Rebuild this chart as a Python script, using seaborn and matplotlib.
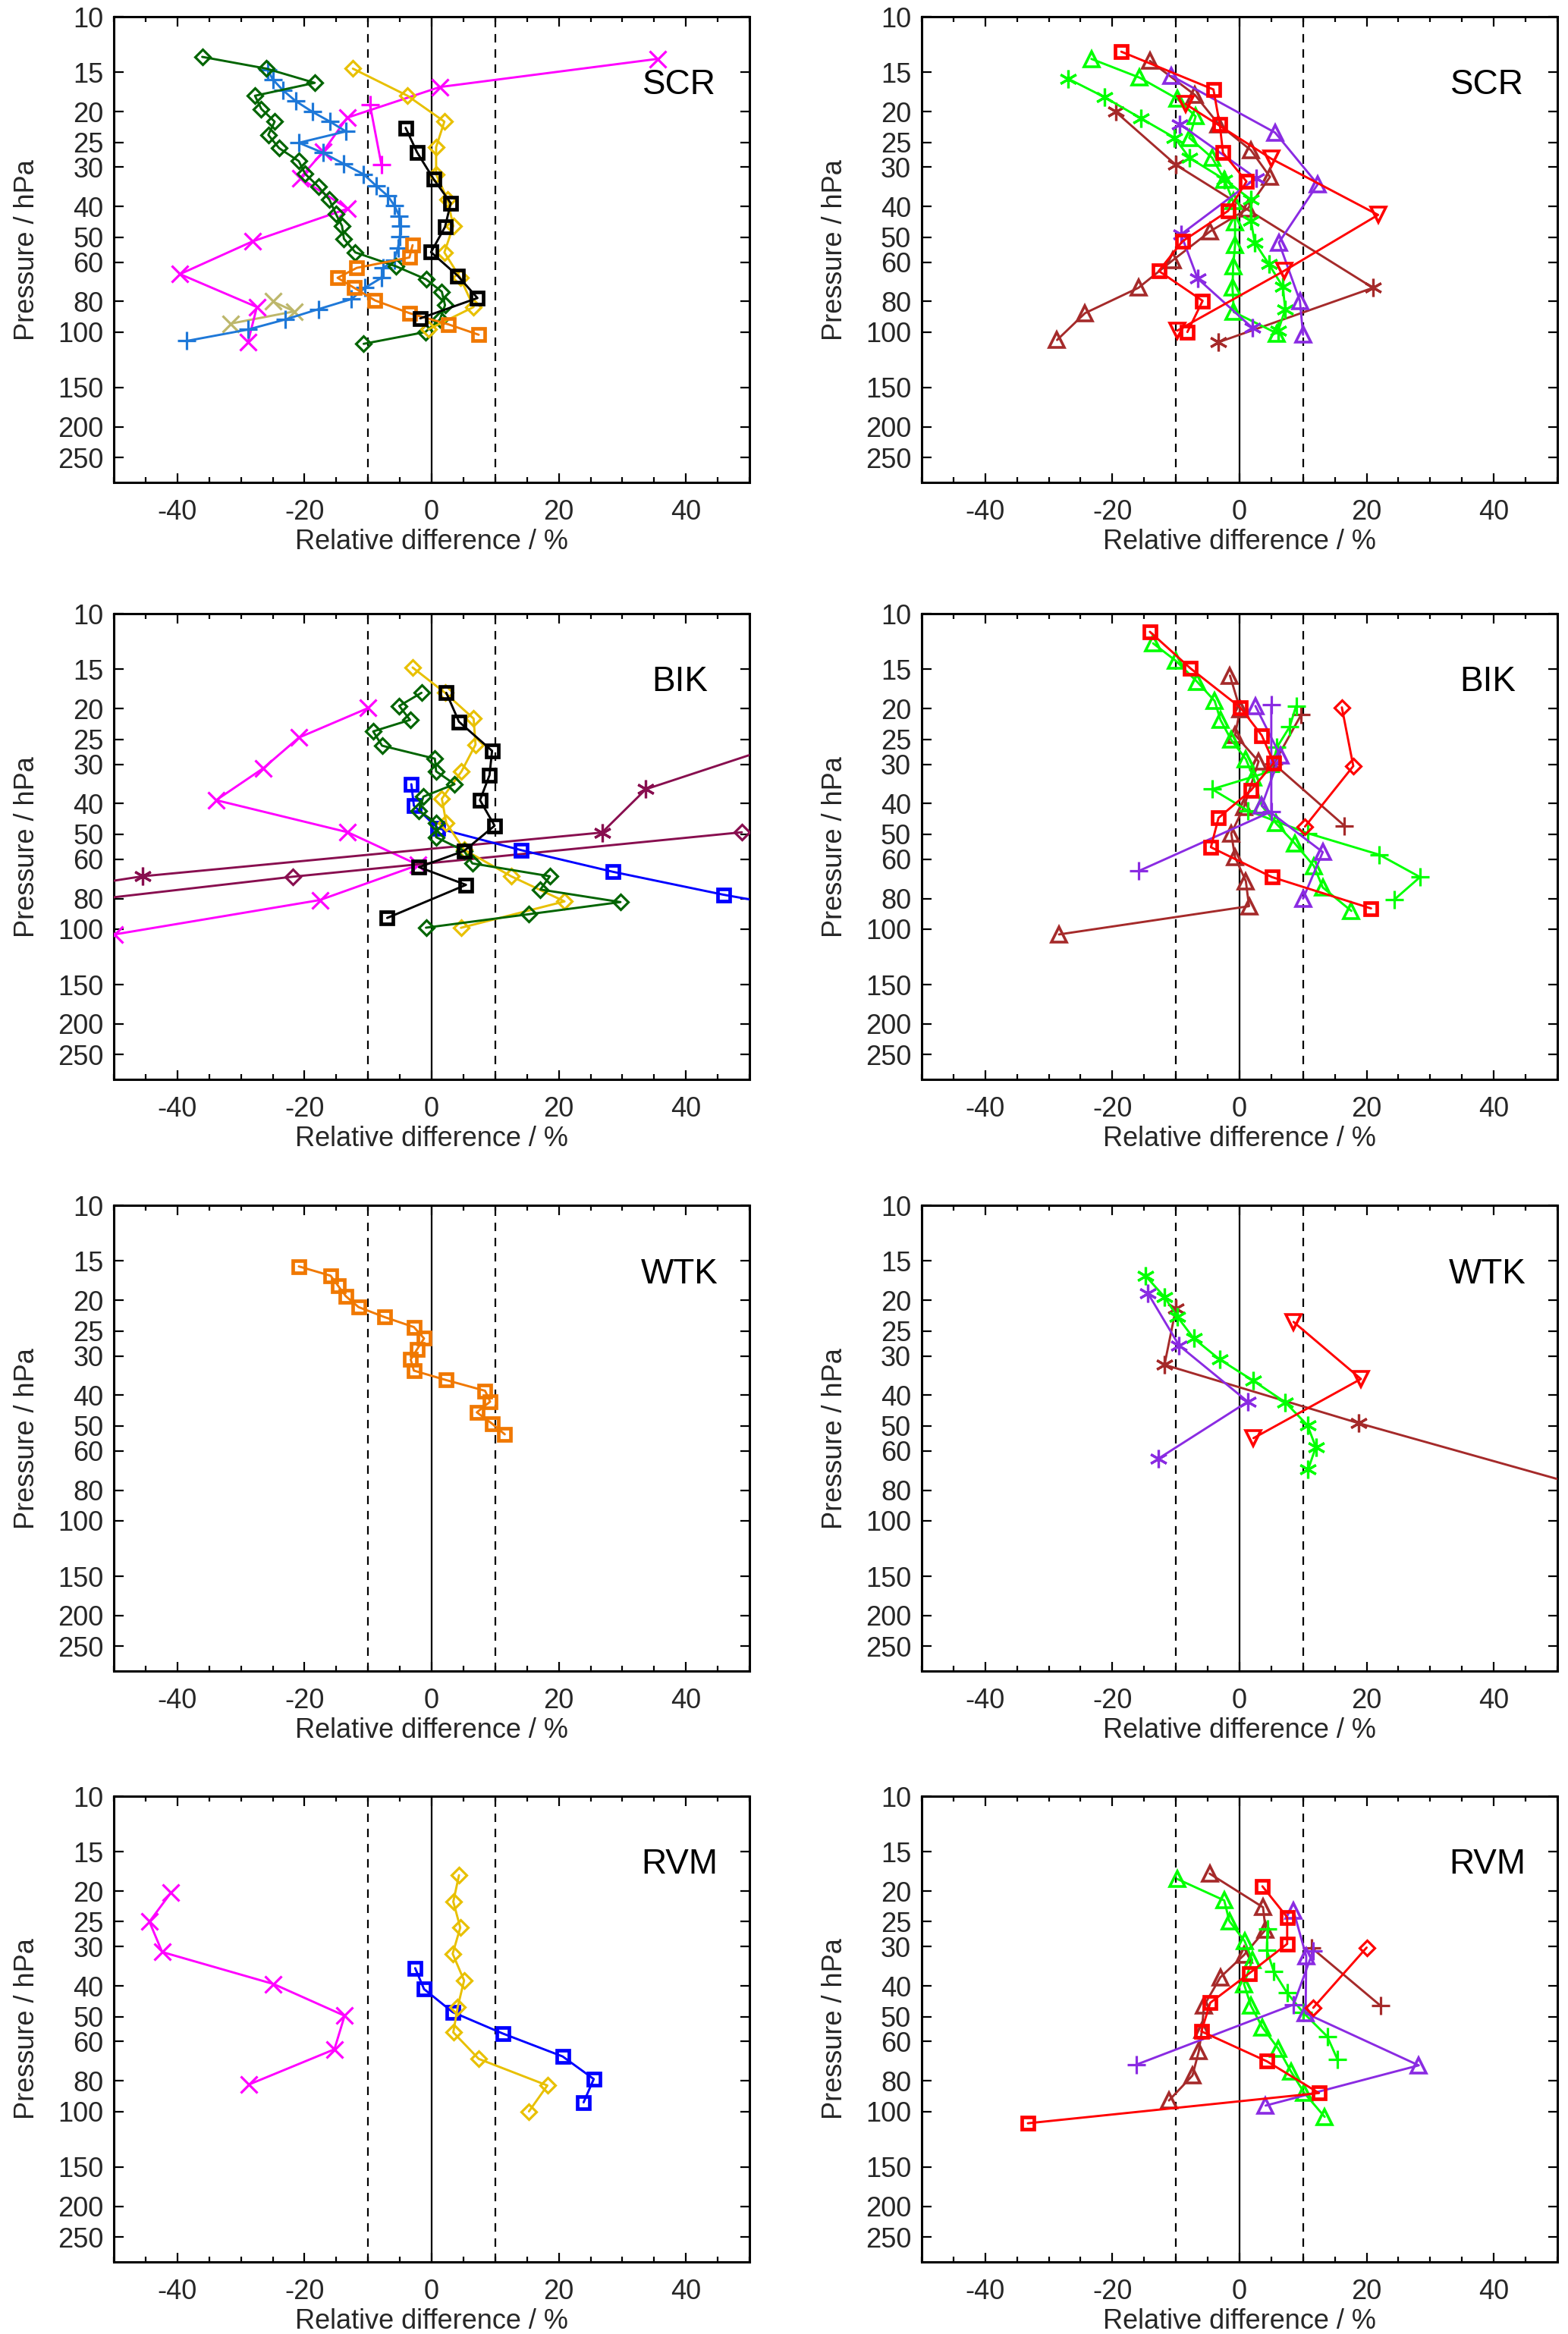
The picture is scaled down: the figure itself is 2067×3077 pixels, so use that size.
import numpy as np
import matplotlib
matplotlib.use("Agg")
import matplotlib.pyplot as plt
import seaborn as sns
from matplotlib.ticker import MultipleLocator, FixedLocator, NullLocator

# ---- data: relative difference (%) against pressure (hPa) ----
# SCR, left column
scr_dgreen_dia = ([-36.1, -26.0, -18.4, -27.8, -26.8, -24.7, -25.7, -24.0, -20.9, -19.9, -17.8, -16.1,
                   -15.1, -14.1, -13.8, -12.0, -5.6, -0.9, 1.6, 2.1, 1.3, -1.0, -10.7],
                  [13.4, 14.6, 16.2, 17.8, 19.6, 21.5, 23.7, 26.1, 28.7, 31.5, 34.6, 38.0,
                   42.1, 46.1, 50.6, 55.9, 61.9, 68.0, 74.5, 82.2, 91.2, 100, 109])
scr_gold_dia = ([-12.4, -3.8, 2.0, 0.7, 0.7, 2.5, 3.4, 2.0, 4.5, 6.6, -0.5],
                [14.6, 17.8, 21.5, 25.9, 31.6, 38, 46.1, 55.9, 67.3, 83.3, 98])
scr_mag_x = ([35.5, 1.3, -13.3, -17.1, -20.7, -13.2, -28.2, -39.6, -27.5, -28.9],
             [13.6, 16.7, 20.9, 26.8, 32.5, 40.6, 51.6, 65.5, 83.3, 107.7])
scr_mag_plus = ([-9.7, -7.9], [19.05, 29.5])
scr_blue_plus = ([-25.8, -25.0, -23.4, -21.4, -18.8, -16.0, -13.5, -20.9, -17.1, -13.8, -10.7, -8.7, -6.9, -5.9,
                  -5.1, -4.9, -5.0, -5.3, -5.9, -7.6, -7.9, -10.5, -12.6, -17.8, -23.0, -28.9, -38.5],
                 [14.7, 15.8, 17.1, 18.5, 20.0, 21.5, 23.1, 25.1, 27.0, 29.3, 31.6, 34.4, 37.0, 39.6,
                  42.8, 46.1, 49.8, 54.0, 59.2, 62.6, 67.3, 72.4, 78.6, 84.6, 91.2, 98.2, 106.7])
scr_orange_sq = ([-3.0, -3.5, -11.8, -14.8, -12.2, -8.9, -3.5, 2.6, 7.4],
                 [53, 58, 62.6, 67.3, 72.4, 79.4, 87.1, 94.5, 102])
scr_black_sq = ([-4.1, -2.3, 0.3, 3.0, 2.1, -0.1, 4.1, 7.2, -1.8],
                [22.5, 26.9, 32.7, 39, 46.4, 55.8, 66.3, 78, 90.5])
scr_khaki_x = ([-25.0, -21.6, -31.6], [80, 86, 94])

# SCR, right column
scr_red_sq = ([-18.6, -4.1, -3.1, -2.6, 1.1, -1.8, -9.0, -12.7, -5.8, -8.2],
              [12.9, 17.0, 22, 27, 33.3, 41.3, 51.6, 64, 79.6, 100])
scr_red_inv = ([-8.5, 5.0, 21.8, 7.0, -9.8], [18.9, 28.2, 42.5, 64, 99])
scr_brown_tri = ([-14.1, -7.0, -3.3, 1.8, 4.8, 1.3, -4.6, -10.5, -15.9, -24.3, -28.7],
                 [13.8, 17.7, 21.9, 26.5, 32.2, 40.6, 47.9, 59.2, 72.4, 87.1, 106])
scr_brown_ast = ([-19.5, -10.0, 21.0, -3.3], [20.0, 29.5, 72.4, 107.7])
scr_lime_tri = ([-23.3, -15.7, -9.8, -6.9, -7.9, -4.3, -2.4, -1.0, -0.7, -0.7, -1.0, -1.1, -0.9, 5.9],
                [13.6, 15.6, 18.2, 20.7, 24.2, 28, 32.8, 38.5, 44.9, 53, 61.9, 72.4, 86.4, 101])
scr_lime_ast = ([-27.0, -21.2, -15.5, -10.2, -7.9, -2.4, 1.8, 1.8, 2.4, 4.6, 6.8, 7.2, 6.1],
                [15.7, 18.0, 21.0, 24.2, 28, 32.8, 38, 44.4, 52, 60.8, 71.8, 84.6, 99])
scr_purple_tri = ([-10.7, 5.6, 12.3, 6.2, 9.5, 10.0], [15.4, 23.3, 34, 52, 79.6, 102])
scr_purple_ast = ([-9.4, 2.6, -9.2, -6.6, 2.0], [21.9, 32.5, 49, 67.6, 96.9])

# BIK, left column
bik_gold_dia = ([-3.0, 2.1, 6.6, 6.9, 4.7, 1.6, 2.3, 5.1, 12.5, 20.9, 4.6],
                [14.8, 17.8, 21.5, 26, 31.6, 38.6, 46.1, 56, 68, 81.7, 99.1])
bik_black_sq = ([2.3, 4.3, 9.5, 9.1, 7.6, 9.9, 5.1, -2.0, 5.4, -7.0],
                [17.8, 22, 27.2, 32.5, 39, 47, 56.5, 63.6, 72.4, 92.2])
bik_dgreen_dia = ([-1.6, -5.1, -3.4, -9.2, -7.8, 0.5, 0.7, 3.6, -1.3, -2.0, 0.7, 0.7, 5.1, 6.4,
                   18.6, 17.1, 29.7, 15.3, -0.9],
                  [17.8, 19.6, 21.7, 23.6, 26.2, 28.8, 31.6, 34.7, 38, 42.1, 46.1, 51.1, 56.5, 61.9,
                   68, 74.9, 82.1, 89.7, 99])
bik_blue_sq = ([-3.2, -2.8, 1.0, 14.1, 28.5, 45.9, 58], [34.7, 40.6, 47.9, 56.2, 65.8, 77.8, 86])
bik_mag_x = ([-10.0, -20.9, -26.5, -33.9, -13.2, -2.1, -17.6, -49.9],
             [19.9, 24.7, 30.9, 39, 49.3, 62.6, 80.9, 104])
bik_maroon_ast = ([-55, -45.5, 26.8, 33.7, 65], [72.8, 68, 49.4, 36, 22.3])
bik_maroon_dia = ([-60, -21.8, 48.8], [83.6, 68.2, 49.3])

# BIK, right column
bik_red_sq = ([-14.1, -7.7, 0.1, 3.5, 5.4, 1.8, -3.3, -4.5, 5.1, 20.7],
              [11.4, 14.9, 19.8, 24.3, 29.7, 36.3, 44.4, 55, 68.4, 86])
bik_lime_tri = ([-13.6, -10.0, -6.7, -3.9, -3.0, -1.3, 1.0, 2.2, 3.5, 5.7, 8.7, 11.7, 13.1, 17.6],
                [12.4, 14.1, 16.4, 18.9, 21.7, 25.1, 28.9, 33.1, 40.6, 46.1, 53.5, 63.1, 73.8, 87.6])
bik_brown_tri = ([-1.5, 0.1, -0.7, 3.0, 0.7, -1.3, -0.7, 1.0, 1.5, -28.4],
                 [15.7, 20.1, 24.2, 29.4, 41, 49.7, 59.2, 70.5, 84.6, 104])
bik_brown_plus = ([9.7, 5.4, 16.5], [20.9, 29.9, 47])
bik_lime_plus = ([8.9, 7.9, 5.9, 4.9, -4.3, 1.3, 10.8, 22.0, 28.4, 24.3],
                 [19.6, 22.8, 26.5, 31.6, 36, 42.1, 49.7, 58.1, 68.4, 80.8])
bik_purple_tri = ([2.5, 6.4, 3.5, 13.1, 10.0], [19.6, 28.1, 40.6, 57, 80])
bik_purple_plus = ([5.0, 5.0, -15.9], [19.4, 42.4, 65.5])
bik_red_dia = ([16.1, 17.9, 10.3], [19.8, 30.4, 47.3])

# WTK
wtk_orange_sq = ([-20.9, -15.9, -14.7, -13.5, -11.5, -7.4, -2.8, -1.2, -2.3, -3.3, -2.8, 2.3, 8.4, 9.2,
                  7.1, 9.5, 11.5],
                 [15.6, 16.7, 18.0, 19.4, 21.0, 22.6, 24.3, 26.4, 28.6, 30.8, 33.4, 35.8, 38.7, 41.9,
                  45.3, 49.2, 53.2])
wtk_lime_ast = ([-14.8, -11.8, -9.8, -7.2, -3.1, 2.2, 7.2, 10.7, 12.0, 10.8],
                [16.7, 19.5, 22.5, 26.4, 30.8, 36, 42.1, 49.8, 58.4, 68.8])
wtk_purple_ast = ([-14.4, -9.5, 1.3, -12.8], [19.0, 27.8, 41.9, 63.6])
wtk_brown_ast = ([-10.0, -11.8, 18.7, 60], [21.2, 32, 49, 84])
wtk_red_inv = ([8.5, 19.1, 2.2], [23.4, 35.5, 54.7])

# RVM
rvm_gold_dia = ([4.3, 3.4, 4.5, 3.3, 5.1, 4.1, 3.4, 7.4, 18.2, 15.3],
                [17.8, 21.6, 26.1, 31.6, 38.4, 46.6, 56.1, 68.1, 82.7, 100])
rvm_blue_sq = ([-2.6, -1.2, 3.3, 11.2, 20.6, 25.5, 23.9], [35.1, 40.9, 48.4, 56.6, 66.9, 78.9, 93.6])
rvm_mag_x = ([-41.0, -44.4, -42.4, -24.9, -13.7, -15.3, -28.8], [20.2, 25, 31.2, 39.4, 49.7, 63.5, 82.2])
rvm_lime_tri = ([-9.8, -2.4, -1.6, 0.8, 2.0, 0.7, 1.8, 3.6, 6.1, 8.1, 10.2, 13.4],
                [18.3, 21.4, 24.9, 28.8, 33.1, 39.4, 46.2, 54.1, 63.2, 74.7, 87.4, 104])
rvm_brown_tri = ([-4.7, 3.7, 4.1, 0.7, -3.0, -5.6, -5.9, -6.4, -7.4, -11.1],
                 [17.6, 22.5, 26.5, 31.9, 37.5, 46.2, 55, 64.4, 76.9, 92.3])
rvm_red_sq = ([3.6, 7.5, 7.5, 1.5, -4.6, -6.0, 4.3, 12.5, -33.3],
              [19.3, 24.2, 29.4, 36.5, 45.2, 55.7, 69.3, 87.4, 109])
rvm_purple_tri = ([8.5, 10.5, 10.4, 28.2, 4.1], [23.1, 32.2, 48.8, 71.4, 95.8])
rvm_purple_plus = ([11.6, 8.5, -16.2], [30.9, 45.8, 71])
rvm_lime_plus = ([4.4, 4.3, 5.4, 7.5, 10.0, 13.8, 15.4], [26.3, 30.8, 36, 42.1, 48.5, 57.8, 68.3])
rvm_brown_plus = ([11.3, 22.2], [30.2, 46.2])
rvm_red_dia = ([20.0, 11.6], [30.2, 46.9])

stations = ["SCR", "BIK", "WTK", "RVM"]
y_ticks = [10, 15, 20, 25, 30, 40, 50, 60, 80, 100, 150, 200, 250]
x_ticks = [-40, -20, 0, 20, 40]

# ---- styles ----
DGREEN, GOLD, MAGENTA, DODGER = "#006400", "#e8c000", "#ff00ff", "#1e78d8"
ORANGE, KHAKI, BLUE, MAROON = "#f07800", "#bdb76b", "#0000ff", "#880e4f"
RED, BROWN, LIME, PURPLE = "#ff0000", "#a52a2a", "#00ff00", "#8a2be2"

STYLES = {
    "dia": dict(marker="D", markersize=10, markeredgewidth=2.3),
    "sq": dict(marker="s", markersize=12, markeredgewidth=3.4),
    "x": dict(marker="x", markersize=16, markeredgewidth=2.3),
    "plus": dict(marker="+", markersize=17, markeredgewidth=2.3),
    "ast": dict(marker=(6, 2, 0), markersize=17, markeredgewidth=2.3),
    "tri": dict(marker="^", markersize=14, markeredgewidth=2.6),
    "inv": dict(marker="v", markersize=14, markeredgewidth=2.6),
}

left_panels = [
    [(scr_khaki_x, KHAKI, "x"), (scr_mag_x, MAGENTA, "x"), (scr_mag_plus, MAGENTA, "plus"),
     (scr_blue_plus, DODGER, "plus"), (scr_dgreen_dia, DGREEN, "dia"), (scr_gold_dia, GOLD, "dia"),
     (scr_orange_sq, ORANGE, "sq"), (scr_black_sq, "black", "sq")],
    [(bik_mag_x, MAGENTA, "x"), (bik_maroon_ast, MAROON, "ast"), (bik_maroon_dia, MAROON, "dia"),
     (bik_blue_sq, BLUE, "sq"), (bik_gold_dia, GOLD, "dia"), (bik_dgreen_dia, DGREEN, "dia"),
     (bik_black_sq, "black", "sq")],
    [(wtk_orange_sq, ORANGE, "sq")],
    [(rvm_mag_x, MAGENTA, "x"), (rvm_blue_sq, BLUE, "sq"), (rvm_gold_dia, GOLD, "dia")],
]
right_panels = [
    [(scr_brown_ast, BROWN, "ast"), (scr_brown_tri, BROWN, "tri"), (scr_lime_ast, LIME, "ast"),
     (scr_lime_tri, LIME, "tri"), (scr_purple_tri, PURPLE, "tri"), (scr_purple_ast, PURPLE, "ast"),
     (scr_red_inv, RED, "inv"), (scr_red_sq, RED, "sq")],
    [(bik_brown_tri, BROWN, "tri"), (bik_brown_plus, BROWN, "plus"), (bik_lime_tri, LIME, "tri"),
     (bik_lime_plus, LIME, "plus"), (bik_purple_tri, PURPLE, "tri"), (bik_purple_plus, PURPLE, "plus"),
     (bik_red_dia, RED, "dia"), (bik_red_sq, RED, "sq")],
    [(wtk_brown_ast, BROWN, "ast"), (wtk_lime_ast, LIME, "ast"), (wtk_purple_ast, PURPLE, "ast"),
     (wtk_red_inv, RED, "inv")],
    [(rvm_brown_tri, BROWN, "tri"), (rvm_brown_plus, BROWN, "plus"), (rvm_lime_tri, LIME, "tri"),
     (rvm_lime_plus, LIME, "plus"), (rvm_purple_tri, PURPLE, "tri"), (rvm_purple_plus, PURPLE, "plus"),
     (rvm_red_dia, RED, "dia"), (rvm_red_sq, RED, "sq")],
]

sns.set_theme(style="ticks")
plt.rcParams["font.family"] = ["Liberation Sans", "DejaVu Sans"]
plt.rcParams["axes.unicode_minus"] = False

FS = 26
fig = plt.figure(figsize=(20.67, 30.77), dpi=100)

col_left = [0.0726, 0.5878]
row_bottom = [0.7933, 0.5375, 0.2840, 0.0309]
width, height = 0.4054, 0.1995


def draw_panel(ax, series, station):
    ax.axvline(0, color="black", lw=1.6, zorder=1)
    for v in (-10, 10):
        ax.axvline(v, color="black", lw=1.6, ls=(0, (5, 4)), zorder=1)
    for (xs, ps), color, mk in series:
        sns.lineplot(x=xs, y=ps, ax=ax, sort=False, estimator=None, color=color,
                     linewidth=2.1, markerfacecolor="none", markeredgecolor=color,
                     zorder=3, **STYLES[mk])
    ax.set_yscale("log")
    ax.set_ylim(300, 10)
    ax.set_xlim(-50, 50)
    ax.yaxis.set_major_locator(FixedLocator(y_ticks))
    ax.yaxis.set_minor_locator(NullLocator())
    ax.set_yticklabels([str(t) for t in y_ticks])
    ax.xaxis.set_major_locator(FixedLocator(x_ticks))
    ax.xaxis.set_minor_locator(MultipleLocator(5))
    ax.tick_params(which="both", direction="in", top=True, right=True, width=1.6,
                   labelsize=FS, color="black")
    ax.tick_params(which="major", length=9)
    ax.tick_params(axis="x", which="major", pad=16)
    ax.tick_params(axis="y", which="major", pad=10)
    ax.tick_params(which="minor", length=5)
    for sp in ax.spines.values():
        sp.set_linewidth(2.2)
        sp.set_color("black")
    ax.set_xlabel("Relative difference / %", fontsize=FS)
    ax.set_ylabel("Pressure / hPa", fontsize=FS)
    ax.xaxis.label.set_va("center")
    ax.yaxis.label.set_va("center")
    ax.xaxis.set_label_coords(0.5, -0.128)
    ax.yaxis.set_label_coords(-0.137, 0.5)
    ax.text(0.89, 0.853, station, transform=ax.transAxes, fontsize=33,
            ha="center", va="center", color="black")


for i, station in enumerate(stations):
    for j, panels in enumerate((left_panels, right_panels)):
        ax = fig.add_axes([col_left[j], row_bottom[i], width, height])
        ax.set_facecolor("white")
        draw_panel(ax, panels[i], station)

fig.savefig("out.png", dpi=100, facecolor="white")
